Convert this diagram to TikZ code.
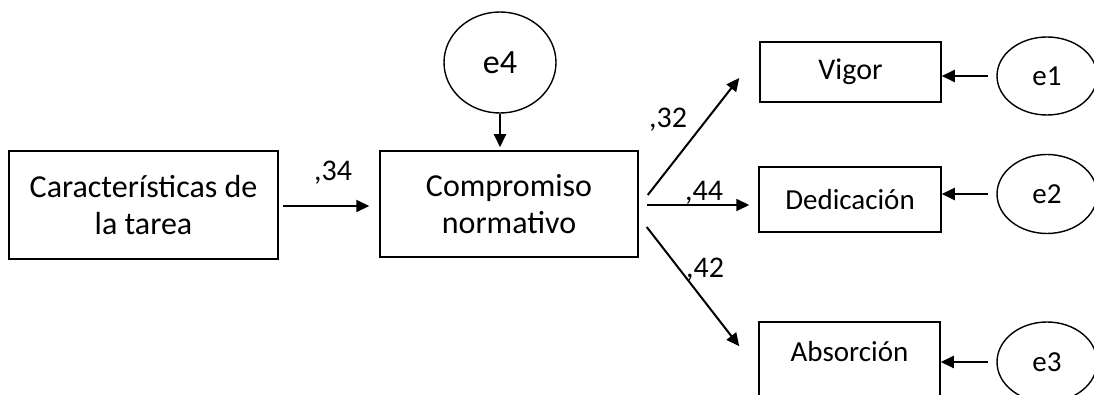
\documentclass[tikz,border=0pt]{standalone}
\usepackage{fontspec}
\setmainfont{Carlito}
\usetikzlibrary{arrows.meta,calc,shapes.geometric}
\begin{document}
\begin{tikzpicture}[x=1pt,y=-1pt,
  box/.style={draw,line width=1.5pt,rectangle,inner sep=0pt,align=center},
  err/.style={draw,line width=1.4pt,ellipse,inner sep=0pt},
  arr/.style={line width=2pt,-{Triangle[length=13pt,width=12pt]}},
  lbl/.style={inner sep=0pt,font=\fontsize{30}{34}\selectfont}]
\useasboundingbox (0,0) rectangle (1094,395);
\begin{scope}
\clip (0,0) rectangle (1094,395);
% observed and latent variables
\node[box,minimum width=269pt,minimum height=108pt,font=\fontsize{32}{37}\selectfont]
  (tarea) at (143.5,205) {Características de\\la tarea};
\node[box,minimum width=258pt,minimum height=106pt,font=\fontsize{32}{37}\selectfont]
  (comp) at (509,204) {Compromiso\\normativo};
\node[err,minimum width=112pt,minimum height=101pt,font=\fontsize{34}{38}\selectfont]
  (e4) at (500,62.5) {e4};
\node[box,minimum width=181pt,minimum height=60pt,font=\fontsize{30}{34}\selectfont]
  (vigor) at (850.5,72) {Vigor};
\node[box,minimum width=182pt,minimum height=65pt,font=\fontsize{29}{33}\selectfont]
  (dedic) at (850,199.5) {Dedicación};
\node[box,minimum width=181pt,minimum height=100pt] (absor) at (849.5,372) {};
\node[inner sep=0pt,font=\fontsize{29}{33}\selectfont] (absortxt) at (849.5,352) {Absorción};
\node[err,minimum width=100pt,minimum height=78pt,font=\fontsize{29}{33}\selectfont]
  (e1) at (1047,76) {e1};
\node[err,minimum width=100pt,minimum height=79pt,font=\fontsize{29}{33}\selectfont]
  (e2) at (1047,194) {e2};
\node[err,minimum width=100pt,minimum height=80pt,font=\fontsize{29}{33}\selectfont]
  (e3) at (1047,362) {e3};
% structural paths
\draw[arr] ($(tarea.east)+(4,1)$) -- ($(comp.west)+(-10,2)$);
\draw[arr] (e4.south) -- ($(comp.north)+(-9,-3)$);
\draw[arr] ($(comp.east)+(9,-9)$) -- ($(vigor.west)+(-20,6)$);
\draw[arr] ($(comp.east)+(8,1)$) -- ($(dedic.west)+(-9,5.5)$);
\draw[arr] ($(comp.east)+(8,23)$) -- ($(absor.north west)+(-19,25)$);
% error terms
\draw[arr,shorten <=8pt] (e1.west) -- (vigor.east |- e1.west);
\draw[arr,shorten <=8pt] (e2.west) -- (dedic.east |- e2.west);
\draw[arr,shorten <=8pt] (e3.west) -- (absor.east |- e3.west);
% coefficients
\node[lbl] (c34) at (333,173) {,34};
\node[lbl] (c32) at (668,120) {,32};
\node[lbl] (c44) at (704,193) {,44};
\node[lbl] (c42) at (705,270) {,42};
\end{scope}
\end{tikzpicture}
\end{document}
